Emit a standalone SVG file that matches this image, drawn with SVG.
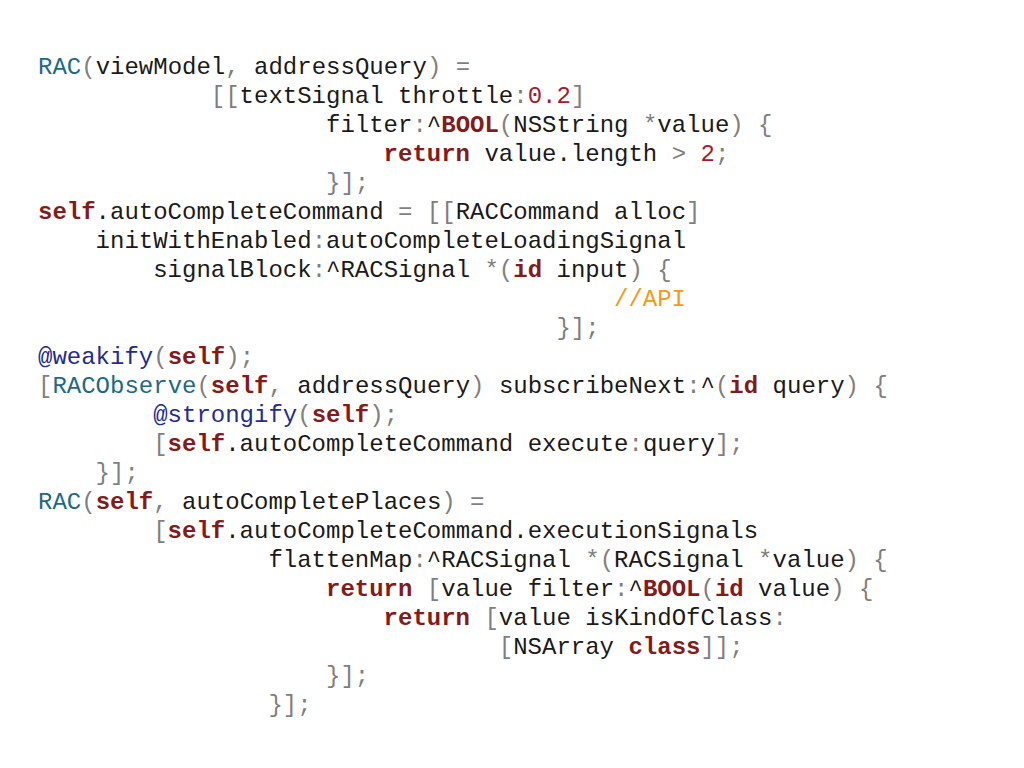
<svg xmlns="http://www.w3.org/2000/svg" width="1024" height="768" viewBox="0 0 1024 768">
<style>
text{font-family:"Liberation Mono","Courier New",monospace;font-size:24px;fill:#1a1a1a;white-space:pre}
.p{fill:#7f7f7f}
.k{fill:#841a1a;font-weight:bold}
.m{fill:#1b6a86}
.a{fill:#1f2c92}
.n{fill:#a8182c}
.c{fill:#f29a1c}
</style>
<rect width="1024" height="768" fill="#ffffff"/>
<g id="code" xml:space="preserve">
<text x="38" y="74"><tspan class="m">RAC</tspan><tspan class="p">(</tspan>viewModel<tspan class="p">, </tspan>addressQuery<tspan class="p">) =</tspan></text>
<text x="210.8" y="103"><tspan class="p">[[</tspan>textSignal throttle<tspan class="p">:</tspan><tspan class="n">0.2</tspan><tspan class="p">]</tspan></text>
<text x="326" y="132">filter<tspan class="p">:</tspan>^<tspan class="k">BOOL</tspan><tspan class="p">(</tspan>NSString <tspan class="p">*</tspan>value<tspan class="p">) {</tspan></text>
<text x="383.6" y="161"><tspan class="k">return</tspan> value.length <tspan class="p">&gt;</tspan> <tspan class="n">2</tspan><tspan class="p">;</tspan></text>
<text x="326" y="190" class="p">}];</text>
<text x="38" y="219"><tspan class="k">self</tspan>.autoCompleteCommand <tspan class="p">= [[</tspan>RACCommand alloc<tspan class="p">]</tspan></text>
<text x="95.6" y="248">initWithEnabled<tspan class="p">:</tspan>autoCompleteLoadingSignal</text>
<text x="153.2" y="277">signalBlock<tspan class="p">:</tspan>^RACSignal <tspan class="p">*(</tspan><tspan class="k">id</tspan> input<tspan class="p">) {</tspan></text>
<text x="614" y="306" class="c">//API</text>
<text x="556.4" y="335" class="p">}];</text>
<text x="38" y="364"><tspan class="a">@weakify</tspan><tspan class="p">(</tspan><tspan class="k">self</tspan><tspan class="p">);</tspan></text>
<text x="38" y="393"><tspan class="p">[</tspan><tspan class="m">RACObserve</tspan><tspan class="p">(</tspan><tspan class="k">self</tspan><tspan class="p">, </tspan>addressQuery<tspan class="p">)</tspan> subscribeNext<tspan class="p">:</tspan>^<tspan class="p">(</tspan><tspan class="k">id</tspan> query<tspan class="p">) {</tspan></text>
<text x="153.2" y="422"><tspan class="a">@strongify</tspan><tspan class="p">(</tspan><tspan class="k">self</tspan><tspan class="p">);</tspan></text>
<text x="153.2" y="451"><tspan class="p">[</tspan><tspan class="k">self</tspan>.autoCompleteCommand execute<tspan class="p">:</tspan>query<tspan class="p">];</tspan></text>
<text x="95.6" y="480" class="p">}];</text>
<text x="38" y="509"><tspan class="m">RAC</tspan><tspan class="p">(</tspan><tspan class="k">self</tspan><tspan class="p">, </tspan>autoCompletePlaces<tspan class="p">) =</tspan></text>
<text x="153.2" y="538"><tspan class="p">[</tspan><tspan class="k">self</tspan>.autoCompleteCommand.executionSignals</text>
<text x="268.4" y="567">flattenMap<tspan class="p">:</tspan>^RACSignal <tspan class="p">*(</tspan>RACSignal <tspan class="p">*</tspan>value<tspan class="p">) {</tspan></text>
<text x="326" y="596"><tspan class="k">return</tspan> <tspan class="p">[</tspan>value filter<tspan class="p">:</tspan>^<tspan class="k">BOOL</tspan><tspan class="p">(</tspan><tspan class="k">id</tspan> value<tspan class="p">) {</tspan></text>
<text x="383.6" y="625"><tspan class="k">return</tspan> <tspan class="p">[</tspan>value isKindOfClass<tspan class="p">:</tspan></text>
<text x="498.8" y="654"><tspan class="p">[</tspan>NSArray <tspan class="k">class</tspan><tspan class="p">]];</tspan></text>
<text x="326" y="683" class="p">}];</text>
<text x="268.4" y="712" class="p">}];</text>
</g>
</svg>
